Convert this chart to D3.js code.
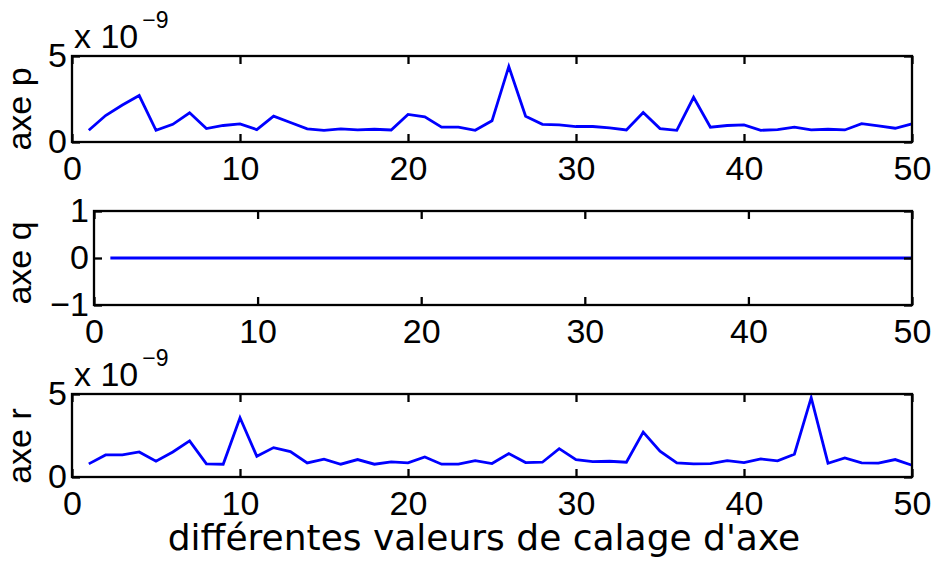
<!DOCTYPE html>
<html>
<head>
<meta charset="utf-8">
<script src="https://cdn.jsdelivr.net/npm/d3@7"></script>
<style>
  html, body { margin: 0; padding: 0; background: #fff; }
  svg text { fill: #000; }
</style>
</head>
<body>
<svg id="chart" width="939" height="562"></svg>
<script>
// ---- data (values of axe p and axe r in units of 1e-9) ----
const calage = [1,2,3,4,5,6,7,8,9,10,11,12,13,14,15,16,17,18,19,20,21,22,23,24,25,
                26,27,28,29,30,31,32,33,34,35,36,37,38,39,40,41,42,43,44,45,46,47,48,49,50];
const axeP = [0.68,1.54,2.15,2.70,0.68,1.03,1.70,0.78,0.96,1.05,0.72,1.50,1.13,0.76,0.68,0.76,0.70,0.74,0.70,1.60,
              1.46,0.86,0.86,0.68,1.23,4.39,1.50,1.03,1.00,0.90,0.90,0.82,0.70,1.72,0.78,0.68,2.60,0.86,0.96,1.00,
              0.68,0.72,0.86,0.70,0.74,0.70,1.07,0.94,0.80,1.05];
const axeQ = [0,0,0,0,0,0,0,0,0,0,0,0,0,0,0,0,0,0,0,0,0,0,0,0,0,0,0,0,0,0,0,0,0,0,0,0,0,0,0,0,0,0,0,0,0,0,0,0,0,0];
const axeR = [0.79,1.33,1.33,1.51,0.95,1.51,2.18,0.79,0.77,3.57,1.25,1.77,1.53,0.85,1.07,0.77,1.05,0.77,0.91,0.85,
              1.21,0.77,0.77,0.99,0.81,1.41,0.87,0.89,1.71,1.05,0.93,0.95,0.89,2.70,1.55,0.85,0.79,0.81,0.99,0.87,
              1.09,0.97,1.37,4.78,0.83,1.15,0.85,0.83,1.05,0.71];
const xTicks = [0,10,20,30,40,50];
const yTicksPR = [0,5];
const yTicksQ = [-1,0,1];
const yLabels = ["axe p","axe q","axe r"];
const xLabel = "différentes valeurs de calage d'axe";
const expBase = "x 10";
const expPow = "−9";

// ---- layout ----
const FS = 34, TICK = 8;
const SANS = "'Liberation Sans', Arial, Helvetica, sans-serif";
const panels = [
  {vals: axeP, left: 72, right: 912, top: 56,  bottom: 142, ydom: [0,5],  yticks: yTicksPR, ylab: yLabels[0], labY: 109, exp: true,  ygap: 5},
  {vals: axeQ, left: 94, right: 912, top: 211, bottom: 305, ydom: [-1,1], yticks: yTicksQ,  ylab: yLabels[1], labY: 263, exp: false, ygap: 5},
  {vals: axeR, left: 72, right: 912, top: 394, bottom: 477, ydom: [0,5],  yticks: yTicksPR, ylab: yLabels[2], labY: 446, exp: true,  ygap: 5}
];

const svg = d3.select("#chart");

panels.forEach(p => {
  const x = d3.scaleLinear().domain([0,50]).range([p.left, p.right]);
  const y = d3.scaleLinear().domain(p.ydom).range([p.bottom, p.top]);
  const g = svg.append("g");

  // line
  const line = d3.line().x((d,i) => x(calage[i])).y(d => y(d));
  g.append("path").datum(p.vals)
    .attr("d", line).attr("fill", "none")
    .attr("stroke", "#0000ff").attr("stroke-width", 2.8)
    .attr("stroke-linejoin", "miter");

  const bx = g.append("g").attr("transform", `translate(0,${p.bottom})`)
    .call(d3.axisBottom(x).tickValues(xTicks).tickSizeInner(-TICK).tickSizeOuter(0).tickPadding(14));
  const tx = g.append("g").attr("transform", `translate(0,${p.top})`)
    .call(d3.axisTop(x).tickValues(xTicks).tickSizeInner(-TICK).tickSizeOuter(0).tickFormat(""));
  const ly = g.append("g").attr("transform", `translate(${p.left},0)`)
    .call(d3.axisLeft(y).tickValues(p.yticks).tickSizeInner(-TICK).tickSizeOuter(0).tickPadding(p.ygap)
      .tickFormat(d => d < 0 ? "−" + Math.abs(d) : String(d)));
  const ry = g.append("g").attr("transform", `translate(${p.right},0)`)
    .call(d3.axisRight(y).tickValues(p.yticks).tickSizeInner(-TICK).tickSizeOuter(0).tickFormat(""));

  [bx, tx, ly, ry].forEach(a => {
    a.select(".domain").remove();
    a.selectAll(".tick line").attr("stroke", "#000").attr("stroke-width", 2.3);
    a.selectAll(".tick text")
      .style("font-size", FS + "px")
      .style("font-family", SANS)
      .attr("fill", "#000");
  });

  // frame
  g.append("rect")
    .attr("x", p.left).attr("y", p.top)
    .attr("width", p.right - p.left).attr("height", p.bottom - p.top)
    .attr("fill", "none").attr("stroke", "#000").attr("stroke-width", 2.3);

  // y label
  g.append("text")
    .attr("transform", `translate(31,${p.labY}) rotate(-90)`)
    .attr("text-anchor", "middle")
    .style("font-family", SANS)
    .style("font-size", FS + "px")
    .text(p.ylab);

  // exponent label
  if (p.exp) {
    const e = g.append("text")
      .attr("x", p.left + 2).attr("y", p.top - 8)
      .style("font-family", SANS)
      .style("font-size", FS + "px");
    e.append("tspan").text(expBase);
    e.append("tspan").attr("dy", -20).attr("dx", 4).style("font-size", "23px").text(expPow);
  }
});

// x label
svg.append("text")
  .attr("x", 484).attr("y", 550)
  .attr("text-anchor", "middle")
  .style("font-family", "'DejaVu Sans', sans-serif")
  .style("font-size", "36px")
  .text(xLabel);
</script>
</body>
</html>
